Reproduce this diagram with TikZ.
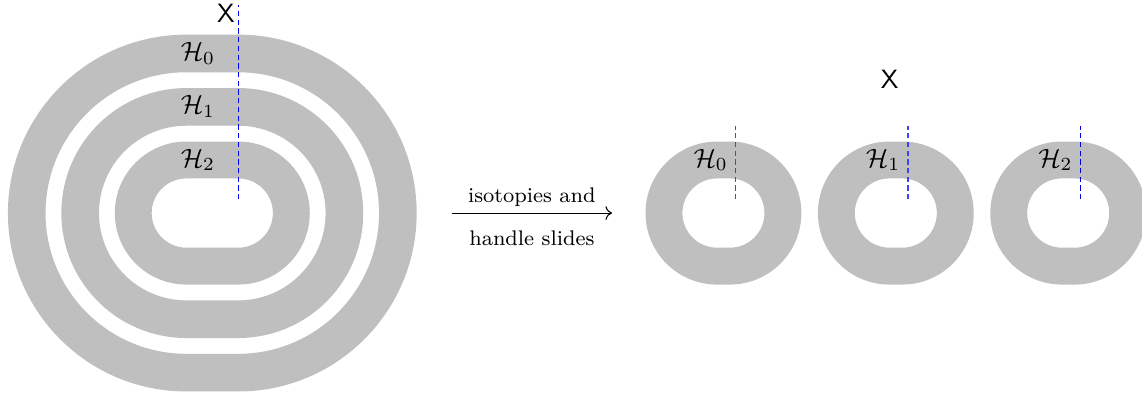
\documentclass[tikz,border=0pt]{standalone}
\usepackage{amsmath,amssymb}
\usepackage{xcolor}
\usepackage{tikz}
\usetikzlibrary{arrows.meta,positioning}

% stadium: flat part of half length #1, round ends of radius #2
\newcommand{\ovalpath}[2]{(-#1,#2) -- (#1,#2) arc[start angle=90,end angle=-90,radius=#2] -- (-#1,-#2) arc[start angle=270,end angle=90,radius=#2] -- cycle}

\begin{document}
\begin{tikzpicture}[
band/.style={fill=lightgray,even odd rule},
cut/.style={dash pattern=on 2pt off 1.3pt,line width=0.5pt},
xmark/.style={font=\sffamily,inner sep=0pt},
arr/.style={->},
small/.style={font=\footnotesize}
]
\useasboundingbox (-2.82,-2.39) rectangle (12.35,2.83);
% nested handles
\fill[band] \ovalpath{0.345}{2.37} \ovalpath{0.345}{1.87};
\fill[band] \ovalpath{0.345}{1.66} \ovalpath{0.345}{1.16};
\fill[band] \ovalpath{0.345}{0.95} \ovalpath{0.345}{0.46};
\draw[cut,blue] (0.35,0.18) -- (0.35,2.77);
\node (h0) at (-0.19,2.12) {$\mathcal{H}_0$};
\node (h1) at (-0.19,1.41) {$\mathcal{H}_1$};
\node (h2) at (-0.19,0.705) {$\mathcal{H}_2$};
\node[xmark] (x0) at (0.18,2.65) {X};
% the move
\coordinate (src) at (3.18,0);
\coordinate (dst) at (5.31,0);
\draw[arr] (src) -- node[above,small,yshift=-1pt] (iso) {isotopies and} node[below=3pt,small] (hs) {handle slides} (dst);
% separated handles
\foreach \cx/\k/\col in {6.79/0/blue!75,9.08/1/blue!75,11.37/2/blue!85!black}{
  \fill[band,shift={(\cx,0)}] \ovalpath{0.085}{0.95} \ovalpath{0.085}{0.46};
  \draw[cut,\col] (\cx+0.16,0.18) -- (\cx+0.16,1.16);
  \node (g\k) at (\cx-0.17,0.705) {$\mathcal{H}_\k$};
}
\node[xmark] (x1) at (9.0,1.77) {X};
\end{tikzpicture}
\end{document}
